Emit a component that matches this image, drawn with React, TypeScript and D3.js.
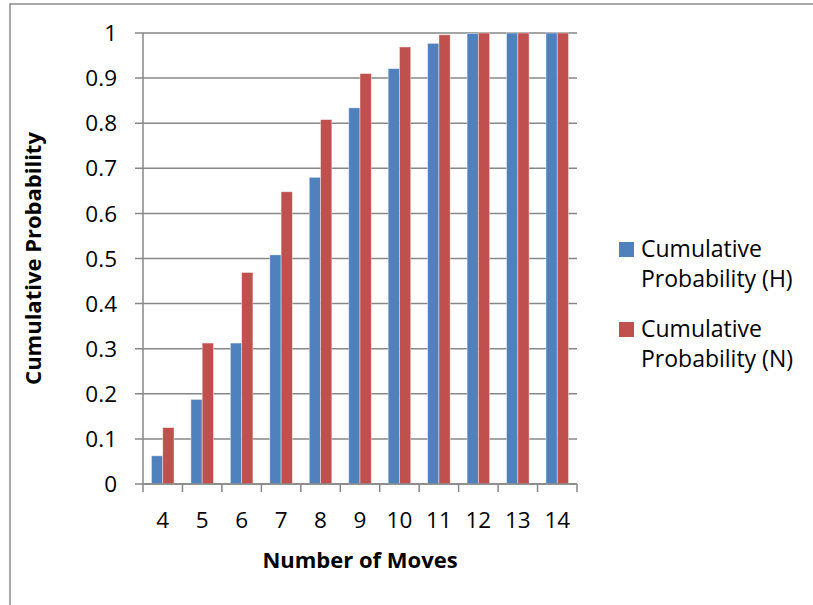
import React from "react";
import * as d3 from "d3";

const categories = ["4", "5", "6", "7", "8", "9", "10", "11", "12", "13", "14"];
const seriesH = [0.0625, 0.1875, 0.3125, 0.508, 0.68, 0.834, 0.921, 0.977, 0.999, 1, 1];
const seriesN = [0.125, 0.3125, 0.469, 0.648, 0.808, 0.91, 0.969, 0.996, 1, 1, 1];
const seriesNames = ["Cumulative Probability (H)", "Cumulative Probability (N)"];
const yTicks = [0, 0.1, 0.2, 0.3, 0.4, 0.5, 0.6, 0.7, 0.8, 0.9, 1];

const W = 813;
const H = 605;
const colors = ["#4F81BD", "#C0504D"];
const font = "'Open Sans', 'Noto Sans', sans-serif";

export default function App() {
  const left = 143, right = 577, top = 33, bottom = 484;
  const x = d3.scaleBand().domain(categories).range([left, right]).paddingInner(0).paddingOuter(0);
  const inner = d3.scaleBand().domain(["H", "N"]).range([0, x.bandwidth()]).paddingOuter(0.75).paddingInner(0);
  const y = d3.scaleLinear().domain([0, 1]).range([bottom, top]);
  const series = [seriesH, seriesN];
  const keys = ["H", "N"];
  const tickXs = categories.map((c) => x(c) as number).concat([right]);

  return (
    <svg width={W} height={H} style={{ position: "absolute", left: 0, top: 0, background: "#fff" }}>
      <rect x={10} y={4} width={W + 20} height={H + 20} fill="#fff" stroke="#8a8a8a" strokeWidth={1.5} />
      {yTicks.map((t) => (
        <g key={t}>
          <line x1={left - 8} x2={right} y1={y(t)} y2={y(t)} stroke="#878787" strokeWidth={1.5} />
          <text x={117} y={y(t)} dy="0.36em" textAnchor="end" fontFamily={font} fontSize={22.5} fill="#000">
            {d3.format("~g")(t)}
          </text>
        </g>
      ))}
      {categories.map((c, i) =>
        series.map((s, j) => (
          <rect
            key={c + j}
            x={(x(c) as number) + (inner(keys[j]) as number)}
            y={y(s[i])}
            width={inner.bandwidth()}
            height={bottom - y(s[i])}
            fill={colors[j]}
            stroke="#ffffff"
            strokeOpacity={0.5}
            strokeWidth={0.8}
          />
        ))
      )}
      <line x1={left} x2={left} y1={top} y2={bottom} stroke="#878787" strokeWidth={1.5} />
      <line x1={left} x2={right} y1={bottom} y2={bottom} stroke="#878787" strokeWidth={1.5} />
      {tickXs.map((tx, i) => (
        <line key={i} x1={tx} x2={tx} y1={bottom} y2={bottom + 8} stroke="#878787" strokeWidth={1.5} />
      ))}
      {categories.map((c) => (
        <text key={c} x={(x(c) as number) + x.bandwidth() / 2} y={528} textAnchor="middle" fontFamily={font} fontSize={22.5} fill="#000">
          {c}
        </text>
      ))}
      <text x={(left + right) / 2} y={568} textAnchor="middle" fontFamily={font} fontSize={22} fontWeight="bold" fill="#000">
        Number of Moves
      </text>
      <text transform={`translate(41,${(top + bottom) / 2}) rotate(-90)`} textAnchor="middle" fontFamily={font} fontSize={22} fontWeight="bold" fill="#000">
        Cumulative Probability
      </text>
      {seriesNames.map((name, j) => {
        const ly = 242 + j * 80;
        const parts = name.split(" ");
        return (
          <g key={name}>
            <rect x={619} y={ly} width={15} height={15} fill={colors[j]} />
            <text x={641} y={ly + 15} fontFamily={font} fontSize={23} fill="#000">{parts[0]}</text>
            <text x={641} y={ly + 45} fontFamily={font} fontSize={23} fill="#000">{parts.slice(1).join(" ")}</text>
          </g>
        );
      })}
    </svg>
  );
}
